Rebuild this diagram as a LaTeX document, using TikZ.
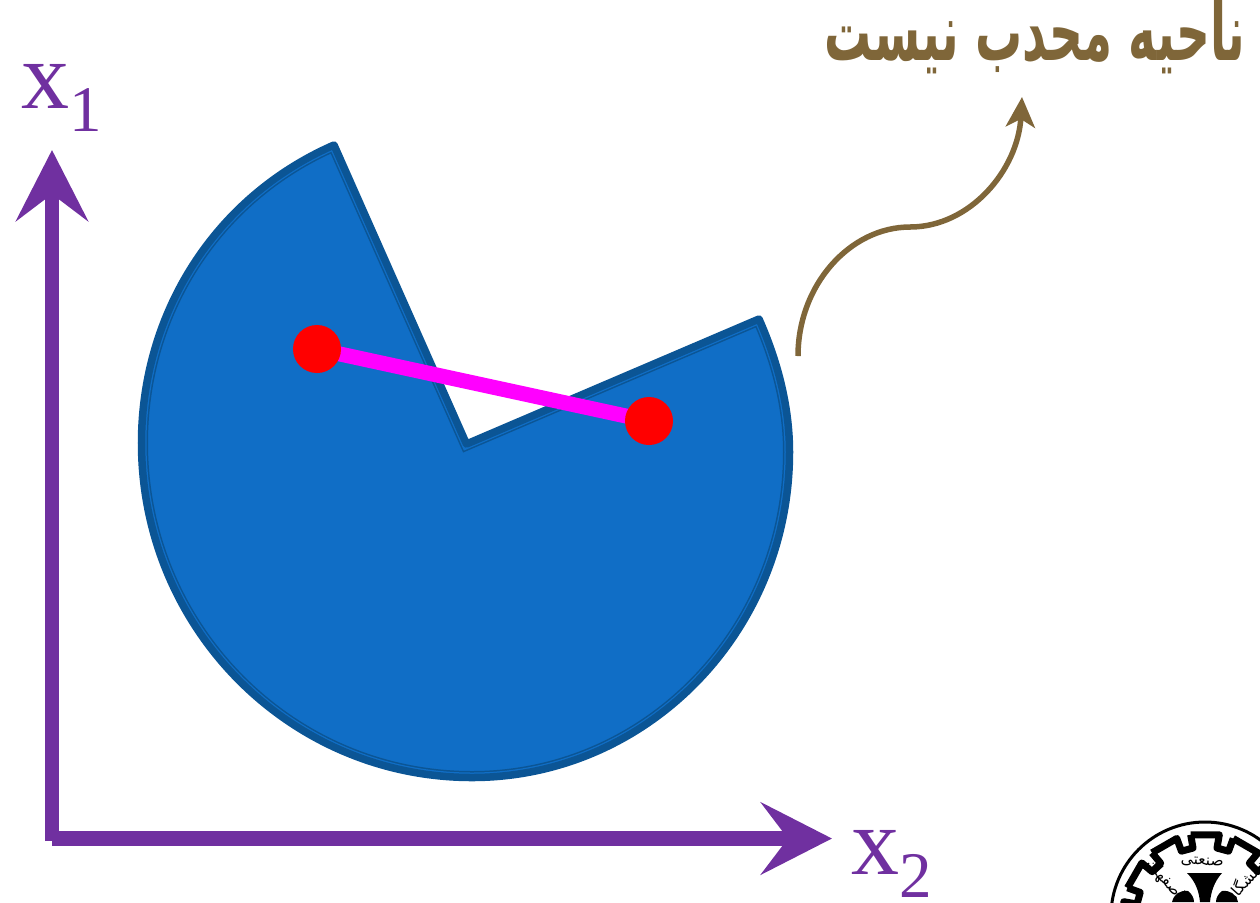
\documentclass[tikz,border=0pt]{standalone}
\usepackage{fontspec}
\setmainfont{Liberation Serif}
\newfontfamily\arabicfont[Script=Arabic]{DejaVu Sans}
\TeXXeTstate=1
\usetikzlibrary{arrows.meta,backgrounds}
\definecolor{axispurple}{HTML}{7030A0}
\definecolor{regionblue}{HTML}{106EC6}
\definecolor{regionedge}{HTML}{0B5595}
\definecolor{notebrown}{HTML}{7F6639}
\definecolor{segmentpink}{HTML}{FF00FF}
% outline of the region, in pixels of the slide
\newcommand{\regionpath}{(334,145) .. controls (215,197) and (141.5,313) .. (141.5,443)
    .. controls (141.5,628) and (289.5,777.5) .. (472,777.5)
    .. controls (647,777.5) and (789.5,632) .. (789.5,452)
    .. controls (789.5,407) and (778,362) .. (759,319) -- (466.5,444) -- cycle}
\begin{document}
\begin{tikzpicture}[x=0.01cm,y=-0.01cm,
    axisline/.style={axispurple,line width=0.145cm,-{Stealth[length=0.71cm,width=0.72cm,inset=0.27cm]}},
    axislabel/.style={axispurple,inner sep=0,anchor=base west,font=\fontsize{27.3}{30}\selectfont},
    dotnode/.style={circle,fill=red,inner sep=0,minimum size=0.48cm},
    notearrow/.style={notebrown,line width=0.055cm,-{Stealth[length=0.3cm,width=0.29cm,inset=0.08cm]}},
    logoline/.style={black,line width=0.07cm,line join=round}]
    \clip (0,0) rectangle (1260,902);
    % axes
    \coordinate (origin) at (52,838.5);
    \coordinate (xonetip) at (52,150);
    \coordinate (xtwotip) at (832,838.5);
    \draw[axisline] ([yshift=-0.025cm]origin) -- (xonetip);
    \draw[axisline] (origin) -- (xtwotip);
    \node[axislabel] (xone) at (21,108) {x\lower0.23cm\hbox{\fontsize{18.5}{20}\selectfont 1}};
    \node[axislabel] (xtwo) at (851,874) {x\lower0.23cm\hbox{\fontsize{18.5}{20}\selectfont 2}};
    % segment
    \node[dotnode] (pa) at (317,349) {};
    \node[dotnode] (pb) at (649,421) {};
    \begin{scope}[on background layer]
        \fill[regionblue] \regionpath;
        \begin{scope}
            \clip \regionpath;
            \draw[regionedge,line width=0.13cm] \regionpath;
            \draw[regionblue,line width=0.10cm] \regionpath;
        \end{scope}
        \draw[regionedge,line width=0.075cm,line join=round] \regionpath;
        \draw[segmentpink,line width=0.15cm] (pa.center) -- (pb.center);
    \end{scope}
    % note
    \node[notebrown,inner sep=0] (note) at (1035,36)
        {\scalebox{0.58}[1]{\fontsize{23}{28}\selectfont\arabicfont\bfseries\beginR ناحیه محدب نیست\endR}};
    \coordinate (notestart) at (798,356);
    \coordinate (notemid) at (910,227);
    \coordinate (noteend) at (1022,97);
    \draw[notearrow] (notestart) .. controls (798,285) and (850,227) .. (notemid)
        .. controls (970,227) and (1018,170) .. (noteend);
    % logo
    \coordinate (logo) at (1205,916);
    \draw[black,line width=0.03cm] (logo) circle (94);
    \foreach \a in {0,30,...,330}{
        \draw[logoline] ({1205+82.5*sin(\a-10)},{916-82.5*cos(\a-10)})
            -- ({1205+82.5*sin(\a+10)},{916-82.5*cos(\a+10)})
            -- ({1205+69*sin(\a+10)},{916-69*cos(\a+10)})
            -- ({1205+69*sin(\a+20)},{916-69*cos(\a+20)})
            -- ({1205+82.5*sin(\a+20)},{916-82.5*cos(\a+20)});
    }
    \node[rotate=-3,inner sep=0] (wordb) at ({1205+54*sin(-3)},{916-54*cos(-3)})
        {\fontsize{4.4}{5}\selectfont\arabicfont\beginR صنعتی\endR};
    \node[rotate=-48,inner sep=0] (wordc) at ({1205+54*sin(-48)},{916-54*cos(-48)})
        {\fontsize{4.4}{5}\selectfont\arabicfont\beginR اصفهان\endR};
    \node[rotate=48,inner sep=0] (worda) at ({1205+54*sin(48)},{916-54*cos(48)})
        {\fontsize{4.4}{5}\selectfont\arabicfont\beginR دانشگاه\endR};
    \fill[black] (1187,873) -- (1222,873) .. controls (1214,882) and (1211,892) .. (1210,902)
        -- (1200,902) .. controls (1199,892) and (1196,882) .. (1187,873) -- cycle;
    \fill[black] (1172,902) .. controls (1174,894) and (1180,890) .. (1188,891)
        .. controls (1192,894) and (1194,898) .. (1194,902) -- cycle;
    \fill[black] (1238,902) .. controls (1236,894) and (1230,890) .. (1222,891)
        .. controls (1218,894) and (1216,898) .. (1216,902) -- cycle;
\end{tikzpicture}
\end{document}
